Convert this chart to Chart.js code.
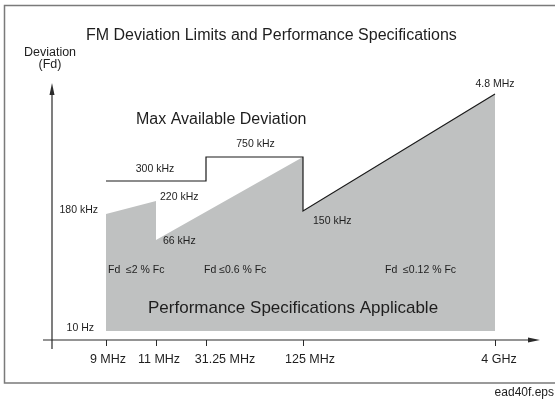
<!DOCTYPE html>
<html>
<head>
<meta charset="utf-8">
<script src="https://cdn.jsdelivr.net/npm/chart.js@4.4.1/dist/chart.umd.min.js"></script>
<style>
    html, body { margin: 0; padding: 0; background: #fff; }
    canvas { display: block; }
</style>
</head>
<body>
<canvas id="chart" width="555" height="402"></canvas>
<script>
// Frequency breakpoints along the x axis (schematic spacing, not to scale)
const tickLabels = ['9 MHz', '11 MHz', '31.25 MHz', '125 MHz', '4 GHz'];
const tickPos = [0, 1, 2, 3.94, 7.78];

// Performance specification region (grey), schematic deviation levels
const specX = [0, 1, 1, 3.94, 3.94, 7.78];
const specY = [117, 130, 91, 174, 120, 237];
const specLabels = ['180 kHz', '220 kHz', '66 kHz', '750 kHz', '150 kHz', '4.8 MHz'];

// Max available deviation (black step line)
const maxX = [0, 2, 2, 3.94, 3.94, 7.78];
const maxY = [150, 150, 174, 174, 120, 237];
const maxLabel = '300 kHz';

const baseLabel = '10 Hz';
const fdLimits = ['Fd  \u22642 % Fc', 'Fd \u22640.6 % Fc', 'Fd  \u22640.12 % Fc'];

const FONT = "'Liberation Sans', Arial, Helvetica, sans-serif";
const TEXT = '#1e1e1e';

const toPoints = (xs, ys) => xs.map((x, i) => ({ x: x, y: ys[i] }));

// Helpers
const font = (size) => size + 'px ' + FONT;

const drawText = (ctx, str, x, y, size, align) => {
    ctx.font = font(size);
    ctx.textAlign = align || 'left';
    ctx.textBaseline = 'alphabetic';
    ctx.fillStyle = TEXT;
    ctx.fillText(str, x, y);
};

// Frame, axes with arrows, ticks and all annotation text
const decorations = {
    id: 'decorations',
    afterDraw(chart) {
        const ctx = chart.ctx;
        const xs = chart.scales.x;
        const ys = chart.scales.y;
        const px = (v) => xs.getPixelForValue(v);
        const py = (v) => ys.getPixelForValue(v);
        const area = chart.chartArea;

        ctx.save();

        // frame (open on the right)
        ctx.strokeStyle = '#7a7a7a';
        ctx.lineWidth = 1.5;
        ctx.beginPath();
        ctx.moveTo(555, 5.5);
        ctx.lineTo(4.5, 5.5);
        ctx.lineTo(4.5, 383);
        ctx.lineTo(555, 383);
        ctx.stroke();

        // axes
        const axisY = area.bottom;
        const axisX = area.left;
        ctx.strokeStyle = '#2a2a2a';
        ctx.fillStyle = '#2a2a2a';
        ctx.lineWidth = 1.2;
        ctx.beginPath();
        ctx.moveTo(43, axisY);
        ctx.lineTo(area.right - 8, axisY);
        ctx.moveTo(axisX, axisY + 9);
        ctx.lineTo(axisX, area.top + 8);
        ctx.stroke();

        // arrow heads
        ctx.beginPath();
        ctx.moveTo(area.right, axisY);
        ctx.lineTo(area.right - 12, axisY - 2.5);
        ctx.lineTo(area.right - 12, axisY + 2.5);
        ctx.closePath();
        ctx.fill();
        ctx.beginPath();
        ctx.moveTo(axisX, area.top);
        ctx.lineTo(axisX - 2.5, area.top + 12);
        ctx.lineTo(axisX + 2.5, area.top + 12);
        ctx.closePath();
        ctx.fill();

        // ticks and labels
        const labelShift = [2, 3, 19, 7, 4];
        ctx.lineWidth = 1;
        tickPos.forEach((v, i) => {
            const x = Math.round(px(v)) + 0.5;
            ctx.beginPath();
            ctx.moveTo(x, axisY);
            ctx.lineTo(x, axisY + 6);
            ctx.stroke();
            drawText(ctx, tickLabels[i], px(v) + labelShift[i], 363, 12.5, 'center');
        });

        // title and axis name
        drawText(ctx, 'FM Deviation Limits and Performance Specifications', 86, 40, 16, 'left');
        drawText(ctx, 'Deviation', 50, 56, 12.5, 'center');
        drawText(ctx, '(Fd)', 50, 68, 12.5, 'center');
        drawText(ctx, 'Max Available Deviation', 136, 124, 16, 'left');
        drawText(ctx, 'Performance Specifications Applicable', 148, 313, 17, 'left');
        drawText(ctx, 'ead40f.eps', 554, 396, 12, 'right');

        // value labels tied to the corners of the regions
        drawText(ctx, specLabels[0], px(specX[0]) - 8, py(specY[0]) - 1, 10.5, 'right');
        drawText(ctx, specLabels[1], px(specX[1]) + 4, py(specY[1]) - 1, 10.5, 'left');
        drawText(ctx, specLabels[2], px(specX[2]) + 7, py(specY[2]) + 4, 10.5, 'left');
        drawText(ctx, specLabels[3], (px(maxX[1]) + px(maxX[3])) / 2 + 1, py(specY[3]) - 10, 10.5, 'center');
        drawText(ctx, specLabels[4], px(specX[4]) + 10, py(specY[4]) + 13, 10.5, 'left');
        drawText(ctx, specLabels[5], px(specX[5]), py(specY[5]) - 7, 10.5, 'center');
        drawText(ctx, maxLabel, (px(maxX[0]) + px(maxX[1])) / 2 - 1, py(maxY[0]) - 9, 10.5, 'center');
        drawText(ctx, baseLabel, px(specX[0]) - 12, py(0), 10.5, 'right');

        // deviation limits per band
        drawText(ctx, fdLimits[0], px(tickPos[0]) + 2, 273, 10.5, 'left');
        drawText(ctx, fdLimits[1], px(tickPos[2]) - 2, 273, 10.5, 'left');
        drawText(ctx, fdLimits[2], px(tickPos[3]) + 82, 273, 10.5, 'left');

        ctx.restore();
    }
};

const chart = new Chart(document.getElementById('chart'), {
    type: 'scatter',
    data: {
        datasets: [
            {
                label: 'Max Available Deviation',
                data: toPoints(maxX, maxY),
                showLine: true,
                fill: false,
                borderColor: '#1a1a1a',
                borderWidth: 1.2,
                pointRadius: 0,
                order: 1
            },
            {
                label: 'Performance Specifications Applicable',
                data: toPoints(specX, specY),
                showLine: true,
                fill: 'origin',
                backgroundColor: '#bfc1c1',
                borderColor: 'transparent',
                borderWidth: 0,
                pointRadius: 0,
                order: 2
            }
        ]
    },
    options: {
        responsive: false,
        animation: false,
        devicePixelRatio: 1,
        layout: {
            padding: { left: 52, right: 15, top: 83, bottom: 62 }
        },
        plugins: {
            legend: { display: false },
            tooltip: { enabled: false },
            title: { display: false }
        },
        scales: {
            x: {
                type: 'linear',
                display: false,
                min: -1.08,
                max: 8.68
            },
            y: {
                type: 'linear',
                display: false,
                min: -9,
                max: 248
            }
        }
    },
    plugins: [decorations]
});
</script>
</body>
</html>
